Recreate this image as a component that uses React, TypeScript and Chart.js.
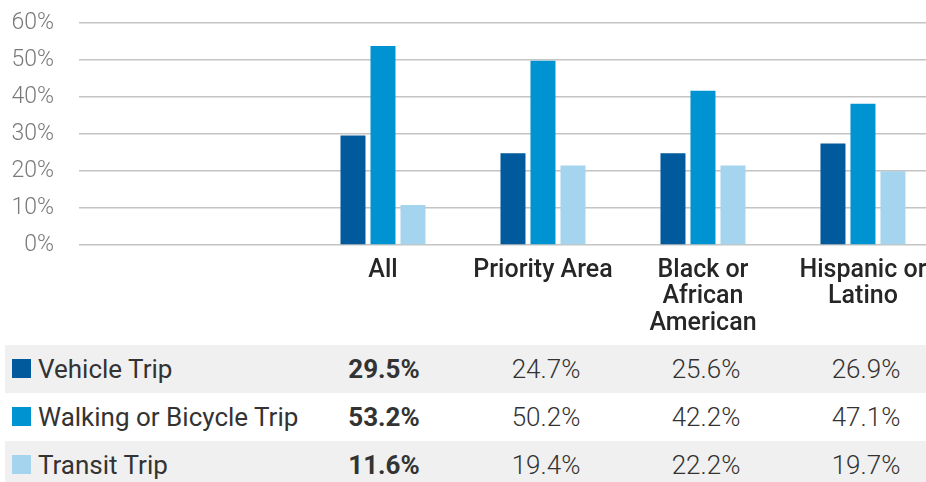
import React, { useEffect, useRef } from 'react';
import { Chart, registerables } from 'chart.js';

Chart.register(...registerables);

// ---- data ----
const categoryLabels: string[][] = [
  ['All'],
  ['Priority Area'],
  ['Black or', 'African', 'American'],
  ['Hispanic or', 'Latino'],
];
const categoryPositions = [1, 2, 3, 4];
const seriesNames = ['Vehicle Trip', 'Walking or Bicycle Trip', 'Transit Trip'];
const seriesColors = ['#005A9C', '#0093D1', '#A5D5EE'];

// bar heights as drawn in the picture (%)
const vehicleBars = [29.6, 24.8, 24.8, 27.4];
const walkingBars = [53.8, 49.8, 41.7, 38.2];
const transitBars = [10.8, 21.5, 21.5, 19.9];

// data table values
const vehicleTable = ['29.5%', '24.7%', '25.6%', '26.9%'];
const walkingTable = ['53.2%', '50.2%', '42.2%', '47.1%'];
const transitTable = ['11.6%', '19.4%', '22.2%', '19.7%'];

const yMin = 0;
const yMax = 60;
const yStep = 10;

const FONT = 'Roboto, "Noto Sans", Arial, sans-serif';

export default function App() {
  const canvasRef = useRef<HTMLCanvasElement | null>(null);

  useEffect(() => {
    if (!canvasRef.current) return;
    const series = [vehicleBars, walkingBars, transitBars];
    const chart = new Chart(canvasRef.current, {
      type: 'bar',
      data: {
        datasets: series.map((vals, si) => ({
          label: seriesNames[si],
          data: categoryPositions.map((x, i) => ({ x, y: vals[i] })),
          backgroundColor: seriesColors[si],
          borderWidth: 0,
          barPercentage: 0.833,
          categoryPercentage: 0.5625,
        })),
      },
      options: {
        animation: false,
        responsive: false,
        devicePixelRatio: 1,
        layout: { padding: { top: 23, left: 0, right: 0, bottom: 0 } },
        plugins: {
          legend: { display: false },
          tooltip: { enabled: false },
        },
        scales: {
          x: {
            type: 'linear',
            offset: false,
            bounds: 'data',
            min: -0.9,
            max: 4.394,
            grid: { display: false, offset: false },
            border: { display: false },
            afterBuildTicks: (s: any) => {
              s.ticks = categoryPositions.map((v) => ({ value: v }));
            },
            afterFit: (s: any) => {
              s.height = 100;
              s.paddingLeft = 0;
              s.paddingRight = 0;
            },
            ticks: {
              autoSkip: false,
              maxRotation: 0,
              minRotation: 0,
              padding: 4,
              color: '#262626',
              font: { family: FONT, size: 25, weight: '500', lineHeight: 1.07 },
              callback: (v: any) => {
                const idx = categoryPositions.indexOf(Number(v));
                return idx >= 0 ? categoryLabels[idx] : '';
              },
            },
          },
          y: {
            min: yMin,
            max: yMax,
            grid: { color: '#c4c4c4', lineWidth: 1.5, drawTicks: false },
            border: { display: false },
            afterFit: (s: any) => {
              s.width = 79;
              s.paddingTop = 0;
              s.paddingBottom = 0;
            },
            ticks: {
              stepSize: yStep,
              padding: 25,
              color: '#7a7a7a',
              font: { family: FONT, size: 23, weight: '300' },
              callback: (v: any) => `${v}%`,
            },
          },
        },
      },
    } as any);
    return () => {
      chart.destroy();
    };
  }, []);

  const tableRows = [vehicleTable, walkingTable, transitTable];
  const colCenters = [384, 546, 706, 866];

  return (
    <div
      style={{
        position: 'fixed',
        left: 0,
        top: 0,
        width: 926,
        height: 482,
        overflow: 'hidden',
        background: '#ffffff',
        fontFamily: FONT,
      }}
    >
      <canvas
        ref={canvasRef}
        width={926}
        height={345}
        style={{ display: 'block', width: 926, height: 345 }}
      />
      <div style={{ position: 'absolute', left: 0, top: 345, width: 926, height: 137 }}>
        {tableRows.map((row, ri) => (
          <div
            key={ri}
            style={{
              position: 'absolute',
              left: 5,
              top: ri * 48,
              width: 921,
              height: 48,
              background: ri % 2 === 0 ? '#f0f0f0' : '#ffffff',
            }}
          >
            <div
              style={{
                position: 'absolute',
                left: 7,
                top: 14,
                width: 19,
                height: 19,
                background: seriesColors[ri],
              }}
            />
            <div
              style={{
                position: 'absolute',
                left: 33,
                top: 0,
                lineHeight: '48px',
                fontSize: 26,
                color: '#333333',
                whiteSpace: 'nowrap',
              }}
            >
              {seriesNames[ri]}
            </div>
            {row.map((val, ci) => (
              <div
                key={ci}
                style={{
                  position: 'absolute',
                  left: colCenters[ci] - 80 - 5,
                  width: 160,
                  top: 0,
                  lineHeight: '48px',
                  textAlign: 'center',
                  fontSize: 26,
                  fontWeight: ci === 0 ? 700 : 300,
                  color: '#333333',
                  whiteSpace: 'nowrap',
                }}
              >
                {val}
              </div>
            ))}
          </div>
        ))}
      </div>
    </div>
  );
}
